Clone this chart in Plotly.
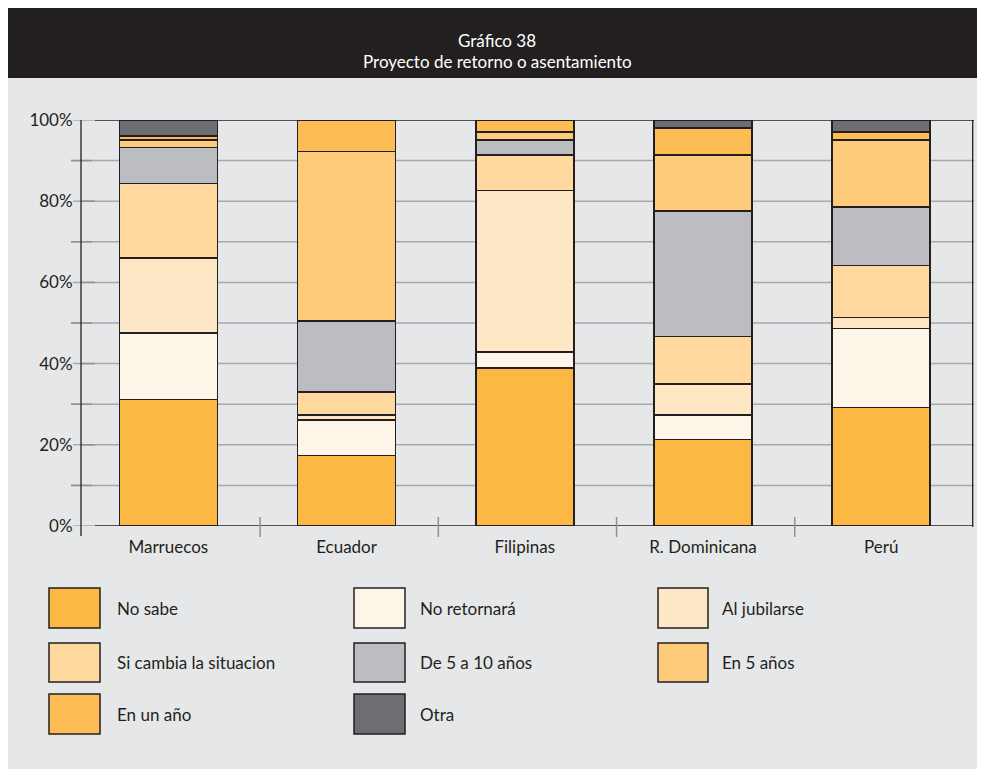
import plotly.graph_objects as go

# ---------------- data ----------------
categories = ["Marruecos", "Ecuador", "Filipinas", "R. Dominicana", "Perú"]

no_sabe        = [31.1, 17.4, 38.9, 21.3, 29.2]
no_retornara   = [16.4,  8.7,  3.9,  6.0, 19.4]
al_jubilarse   = [18.5,  1.2, 39.8,  7.7,  2.8]
si_cambia      = [18.4,  5.7,  8.8, 11.7, 12.8]
de_5_a_10      = [ 8.8, 17.5,  3.7, 30.9, 14.4]
en_5_anos      = [ 1.9, 41.7,  2.0, 13.8, 16.5]
en_un_ano      = [ 1.0,  7.8,  2.9,  6.6,  2.0]
otra           = [ 3.9,  0.0,  0.0,  2.0,  2.9]

series_names = ["No sabe", "No retornará", "Al jubilarse", "Si cambia la situacion",
                "De 5 a 10 años", "En 5 años", "En un año", "Otra"]
series_values = [no_sabe, no_retornara, al_jubilarse, si_cambia,
                 de_5_a_10, en_5_anos, en_un_ano, otra]
series_colors = ["#fbb843", "#fef5e9", "#fee7c5", "#fed89f",
                 "#bcbdc0", "#fecb7b", "#fdbd54", "#6d6e71"]

y_tick_vals = [0, 20, 40, 60, 80, 100]
y_tick_text = ["0%", "20%", "40%", "60%", "80%", "100%"]
title_line1 = "Gráfico 38"
title_line2 = "Proyecto de retorno o asentamiento"

# ---------------- style / layout ----------------
FONT = "Lato, Roboto, sans-serif"
FS = 17
DARK = "#231f20"
GRID = "#a7a9ac"
TICK = "#8f9194"
PANEL = "#e6e7e8"

OFF = 8                      # page body margin
W, H = 977, 761              # figure size (page is 985x769)
ML, MR, MT, MB = 73, 12, 112, 243
PW, PH = W - ML - MR, H - MT - MB


def px2x(px):
    """page pixel x -> paper x"""
    return (px - OFF - ML) / PW


def px2y(py):
    """page pixel y -> paper y"""
    return (H - MB - (py - OFF)) / PH


fig = go.Figure()
for name, vals, col in zip(series_names, series_values, series_colors):
    fig.add_trace(go.Bar(
        name=name, x=categories, y=vals, width=0.55,
        marker=dict(color=col, line=dict(color=DARK, width=1.5)),
        showlegend=False, hoverinfo="skip",
    ))

shapes = []
# title band
shapes.append(dict(type="rect", xref="paper", yref="paper", layer="below",
                   x0=px2x(8), x1=px2x(985), y0=px2y(8), y1=px2y(78),
                   fillcolor=DARK, line=dict(width=0)))

# gridlines every 10%
for v in range(10, 100, 10):
    odd = (v // 10) % 2 == 1
    start = 71 if odd else 73
    shapes.append(dict(type="line", xref="paper", yref="y", layer="below",
                       x0=px2x(start), x1=px2x(974), y0=v, y1=v,
                       line=dict(color=GRID, width=1.5)))
    tx0, tx1 = (71, 92) if odd else (81, 95)
    shapes.append(dict(type="line", xref="paper", yref="y", layer="below",
                       x0=px2x(tx0), x1=px2x(tx1), y0=v, y1=v,
                       line=dict(color=TICK, width=1.5)))
# 0% and 100% lines
for v in (0, 100):
    shapes.append(dict(type="line", xref="paper", yref="y", layer="below",
                       x0=px2x(73), x1=px2x(95), y0=v, y1=v,
                       line=dict(color=GRID, width=1.5)))
    shapes.append(dict(type="line", xref="paper", yref="y", layer="below",
                       x0=px2x(95), x1=px2x(974 if v == 100 else 972.7), y0=v, y1=v,
                       line=dict(color=DARK, width=1.5)))
# left and right axis lines
shapes.append(dict(type="line", xref="paper", yref="paper", layer="below",
                   x0=px2x(81), x1=px2x(81), y0=px2y(120), y1=px2y(536),
                   line=dict(color=DARK, width=1.3)))
shapes.append(dict(type="line", xref="paper", yref="paper", layer="below",
                   x0=px2x(972.7), x1=px2x(972.7), y0=px2y(120), y1=px2y(527),
                   line=dict(color=DARK, width=1.3)))
# category separators
for i in range(len(categories) - 1):
    shapes.append(dict(type="line", xref="x", yref="paper", layer="below",
                       x0=i + 0.515, x1=i + 0.515, y0=px2y(517), y1=px2y(537),
                       line=dict(color=TICK, width=1.5)))

# custom legend
leg_cols = [(49, 100, 115), (354, 405, 418), (658, 708, 720)]
leg_rows = [(588, 628), (643, 682), (694, 734)]
annotations = []
for k, (name, col) in enumerate(zip(series_names, series_colors)):
    r, c = divmod(k, 3)
    x0, x1, tx = leg_cols[c]
    y0, y1 = leg_rows[r]
    shapes.append(dict(type="rect", xref="paper", yref="paper", layer="above",
                       x0=px2x(x0), x1=px2x(x1), y0=px2y(y1), y1=px2y(y0),
                       fillcolor=col, line=dict(color=DARK, width=1.5)))
    annotations.append(dict(xref="paper", yref="paper", x=px2x(tx), y=px2y((y0 + y1) / 2),
                            text=name, showarrow=False, xanchor="left", yanchor="middle",
                            font=dict(family=FONT, size=FS, color=DARK)))

# title
annotations.append(dict(xref="paper", yref="paper", x=px2x(497), y=px2y(40),
                        text=title_line1, showarrow=False, xanchor="center", yanchor="middle",
                        font=dict(family=FONT, size=FS, color="white")))
annotations.append(dict(xref="paper", yref="paper", x=px2x(497), y=px2y(61),
                        text=title_line2, showarrow=False, xanchor="center", yanchor="middle",
                        font=dict(family=FONT, size=FS, color="white")))

fig.update_layout(
    width=W, height=H,
    margin=dict(l=ML, r=MR, t=MT, b=MB, pad=0),
    paper_bgcolor=PANEL, plot_bgcolor="rgba(0,0,0,0)",
    barmode="stack", showlegend=False,
    font=dict(family=FONT, size=FS, color=DARK),
    shapes=shapes, annotations=annotations,
    xaxis=dict(type="category", range=[-0.49, 4.515], showgrid=False, zeroline=False,
               showline=False, ticks="outside", ticklen=6, tickcolor="rgba(0,0,0,0)",
               tickfont=dict(family=FONT, size=FS, color=DARK), fixedrange=True),
    yaxis=dict(range=[0, 100], tickvals=y_tick_vals, ticktext=y_tick_text,
               showgrid=False, zeroline=False, showline=False,
               ticks="outside", ticklen=4, tickcolor="rgba(0,0,0,0)",
               tickfont=dict(family=FONT, size=FS, color=DARK), fixedrange=True),
)

fig.write_html("out.html")
